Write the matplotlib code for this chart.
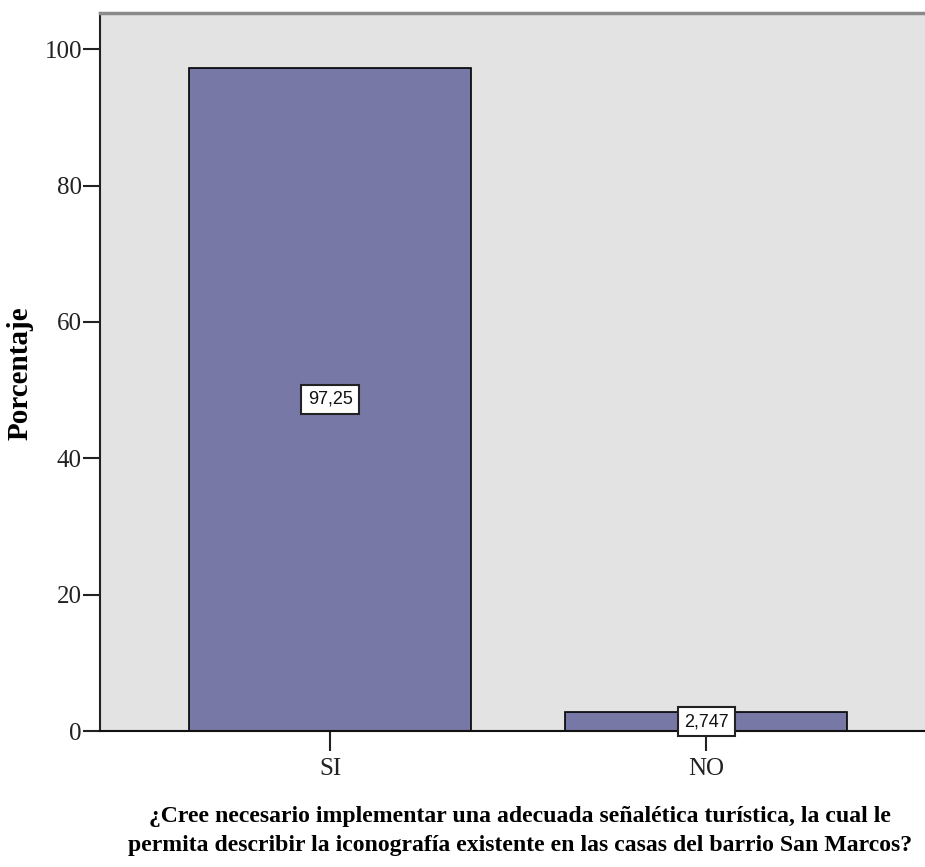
import matplotlib
matplotlib.use("Agg")
import matplotlib.pyplot as plt

categories = ["SI", "NO"]
values = [97.25, 2.747]
value_labels = ["97,25", "2,747"]
yticks = [0, 20, 40, 60, 80, 100]
xlabel = ("¿Cree necesario implementar una adecuada señalética turística, la cual le\n"
          "permita describir la iconografía existente en las casas del barrio San Marcos?")
ylabel = "Porcentaje"

W, H = 925, 867
fig = plt.figure(figsize=(W / 100, H / 100), dpi=100)
fig.patch.set_facecolor("white")
ax = fig.add_axes([100 / W, 1 - 731 / H, 1 - 100 / W, (731 - 13) / H])
ax.set_facecolor("#E3E3E3")

x = list(range(len(categories)))
ax.bar(x, values, width=0.75, color="#7878A6", edgecolor="black", linewidth=1.2, zorder=2)

for xi, v, lab in zip(x, values, value_labels):
    ax.text(xi, v / 2, lab, ha="center", va="center", fontsize=13,
            family="Liberation Sans", color="#111111", zorder=4,
            bbox=dict(boxstyle="square,pad=0.35", facecolor="white",
                      edgecolor="#222222", linewidth=1.5))

ax.set_xlim(-0.612, 1.582)
ax.set_ylim(0, 105.3)
ax.set_xticks(x)
ax.set_xticklabels(categories)
ax.set_yticks(yticks)
ax.set_yticklabels([str(t) for t in yticks])

for lab in ax.get_xticklabels() + ax.get_yticklabels():
    lab.set_family("Liberation Serif")
    lab.set_fontsize(18)
    lab.set_color("#222222")

ax.tick_params(axis="y", direction="out", length=12, width=1.5, pad=1, colors="#222222")
ax.tick_params(axis="x", direction="out", length=14.5, width=1.5, pad=5, colors="#222222")

ax.spines["left"].set_color("#222222")
ax.spines["left"].set_linewidth(1.5)
ax.spines["bottom"].set_color("#111111")
ax.spines["bottom"].set_linewidth(1.5)
ax.spines["top"].set_color("#8A8A8A")
ax.spines["top"].set_linewidth(2.5)
ax.spines["right"].set_visible(False)

fig.text(20 / W, 1 - 373 / H, ylabel, rotation=90, ha="center", va="center",
         fontsize=21, fontweight="bold", family="Liberation Serif", color="black")
fig.text(520 / W, 1 - 831 / H, xlabel, ha="center", va="center", multialignment="center",
         fontsize=17.1, fontweight="bold", family="Liberation Serif", color="black",
         linespacing=1.45)

fig.savefig("out.png", dpi=100)
